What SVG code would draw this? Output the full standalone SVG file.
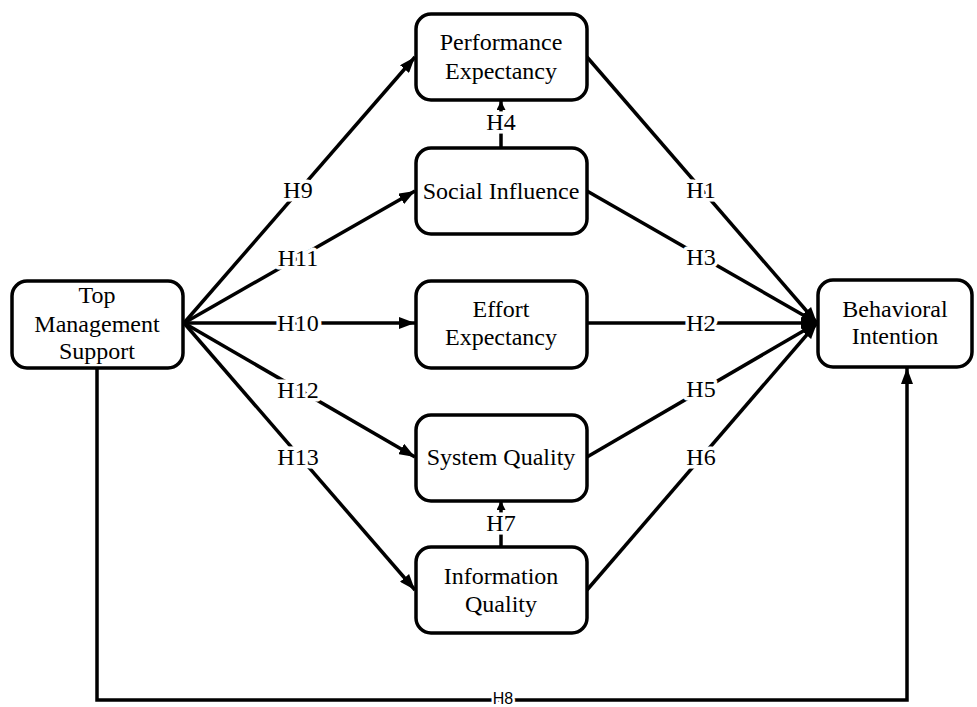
<svg xmlns="http://www.w3.org/2000/svg" width="977" height="707" viewBox="0 0 977 707">
<style>
.box{fill:#fff;stroke:#000;stroke-width:3.5}
.t{font-family:"Liberation Serif","Times New Roman",serif;font-size:24px;fill:#000;text-anchor:middle}
.lbl{font-family:"Liberation Serif","Times New Roman",serif;font-size:24px;fill:#000;text-anchor:middle;stroke:#fff;stroke-width:7;paint-order:stroke;stroke-linejoin:round}
.c{fill:none;stroke:#000;stroke-width:3.5}
</style>
<defs>
<marker id="ah" markerUnits="userSpaceOnUse" viewBox="0 0 16 12" refX="16" refY="6" markerWidth="16" markerHeight="12" orient="auto">
<path d="M0,0 L16,6 L0,12 Z" fill="#000"/>
</marker>
<marker id="as" markerUnits="userSpaceOnUse" viewBox="0 0 9 9" refX="9" refY="4.5" markerWidth="9" markerHeight="9" orient="auto">
<path d="M0,0 L9,4.5 L0,9 Z" fill="#000"/>
</marker>
</defs>
<g id="connectors">
<line class="c" x1="184" y1="323" x2="415" y2="57" marker-end="url(#ah)"/>
<line class="c" x1="184" y1="323" x2="415" y2="191" marker-end="url(#ah)"/>
<line class="c" x1="184" y1="323" x2="415" y2="323" marker-end="url(#ah)"/>
<line class="c" x1="184" y1="323" x2="415" y2="457" marker-end="url(#ah)"/>
<line class="c" x1="184" y1="323" x2="415" y2="590" marker-end="url(#ah)"/>
<line class="c" x1="587" y1="57" x2="817" y2="323" marker-end="url(#ah)"/>
<line class="c" x1="587" y1="191" x2="817" y2="323" marker-end="url(#ah)"/>
<line class="c" x1="587" y1="323" x2="817" y2="323" marker-end="url(#ah)"/>
<line class="c" x1="587" y1="457" x2="817" y2="323" marker-end="url(#ah)"/>
<line class="c" x1="587" y1="590" x2="817" y2="323" marker-end="url(#ah)"/>
<line class="c" x1="501" y1="148" x2="501" y2="101" marker-end="url(#as)"/>
<line class="c" x1="501" y1="547" x2="501" y2="501" marker-end="url(#as)"/>
<polyline class="c" points="97,368 97,700 907,700 907,368" marker-end="url(#ah)"/>
<text class="lbl" x="298" y="198">H9</text>
<text class="lbl" x="298" y="266">H11</text>
<text class="lbl" x="298" y="331">H10</text>
<text class="lbl" x="298" y="398">H12</text>
<text class="lbl" x="298" y="465">H13</text>
<text class="lbl" x="701" y="198">H1</text>
<text class="lbl" x="701" y="265">H3</text>
<text class="lbl" x="701" y="331">H2</text>
<text class="lbl" x="701" y="397">H5</text>
<text class="lbl" x="701" y="465">H6</text>
<text class="lbl" x="501" y="130">H4</text>
<text class="lbl" x="501" y="531">H7</text>
<text x="503" y="704" text-anchor="middle" font-family="'Liberation Sans',Arial,sans-serif" font-size="16" fill="#000" stroke="#fff" stroke-width="5" paint-order="stroke">H8</text>
</g>
<g id="tms">
<rect class="box" x="12" y="281" width="171" height="87" rx="15"/>
<text class="t" x="97" y="303">Top</text>
<text class="t" x="97" y="332">Management</text>
<text class="t" x="97" y="359">Support</text>
</g>
<g id="pe">
<rect class="box" x="416" y="14" width="171" height="86" rx="15"/>
<text class="t" x="501" y="50">Performance</text>
<text class="t" x="501" y="79">Expectancy</text>
</g>
<g id="si">
<rect class="box" x="416" y="148" width="171" height="86" rx="15"/>
<text class="t" x="501" y="199">Social Influence</text>
</g>
<g id="ee">
<rect class="box" x="416" y="281" width="171" height="87" rx="15"/>
<text class="t" x="501" y="317">Effort</text>
<text class="t" x="501" y="345">Expectancy</text>
</g>
<g id="sq">
<rect class="box" x="416" y="415" width="171" height="86" rx="15"/>
<text class="t" x="501" y="465">System Quality</text>
</g>
<g id="iq">
<rect class="box" x="416" y="547" width="171" height="86" rx="15"/>
<text class="t" x="501" y="584">Information</text>
<text class="t" x="501" y="612">Quality</text>
</g>
<g id="bi">
<rect class="box" x="818" y="280" width="154" height="87" rx="15"/>
<text class="t" x="895" y="317">Behavioral</text>
<text class="t" x="895" y="344">Intention</text>
</g>
</svg>
